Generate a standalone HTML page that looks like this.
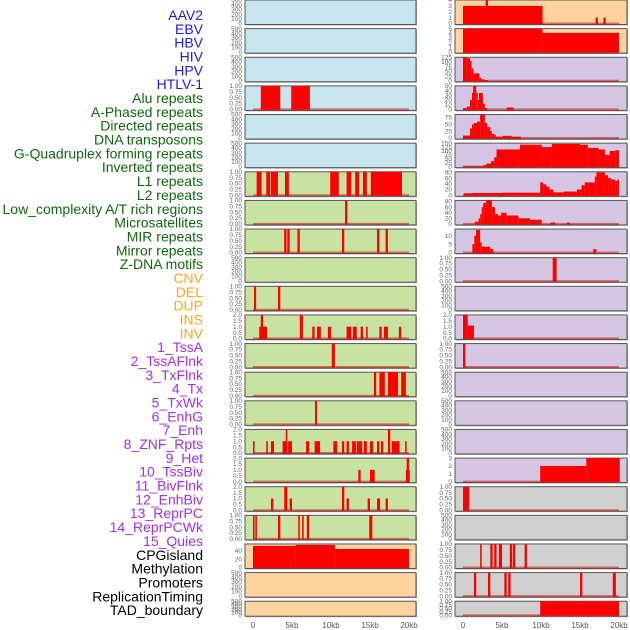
<!DOCTYPE html>
<html><head><meta charset="utf-8"><style>
html,body{margin:0;padding:0;background:#fff;}
svg{display:block;font-family:"Liberation Sans",sans-serif;}
</style></head><body>
<svg id="chart" width="630" height="630" viewBox="0 0 630 630"></svg>
<script>
// ---- labels ----
const trackLabels = ["AAV2","EBV","HBV","HIV","HPV","HTLV-1","Alu repeats","A-Phased repeats","Directed repeats","DNA transposons","G-Quadruplex forming repeats","Inverted repeats","L1 repeats","L2 repeats","Low_complexity A/T rich regions","Microsatellites","MIR repeats","Mirror repeats","Z-DNA motifs","CNV","DEL","DUP","INS","INV","1_TssA","2_TssAFlnk","3_TxFlnk","4_Tx","5_TxWk","6_EnhG","7_Enh","8_ZNF_Rpts","9_Het","10_TssBiv","11_BivFlnk","12_EnhBiv","13_ReprPC","14_ReprPCWk","15_Quies","CPGisland","Methylation","Promoters","ReplicationTiming","TAD_boundary"];
const labelGroups = ["virus","virus","virus","virus","virus","virus","repeat","repeat","repeat","repeat","repeat","repeat","repeat","repeat","repeat","repeat","repeat","repeat","repeat","sv","sv","sv","sv","sv","chrom","chrom","chrom","chrom","chrom","chrom","chrom","chrom","chrom","chrom","chrom","chrom","chrom","chrom","chrom","other","other","other","other","other"];
const xTickValues = [0,5,10,15,20];
const xTickLabels = ["0","5kb","10kb","15kb","20kb"];

// ---- series data: [startKb, endKb, value] ----
const leftAlu = [[1.0,3.5,1],[4.9,7.3,1]];
const leftL1 = [[0.47,1.1,1],[1.7,2.2,1],[2.3,3.2,1],[4.1,4.6,1],[9.9,11,1],[12,12.6,1],[13.1,13.6,1],[14.1,14.6,1],[15.1,19.1,1]];
const leftR7 = [[11.8,12.1,1]];
const leftR8 = [[4,4.3,1],[4.4,4.7,1],[5.7,6,1],[11.4,11.7,1],[15.9,16.2,1],[17,17.3,1]];
const leftR10 = [[0.13,0.4,1],[3.2,3.5,1]];
const leftR11 = [[0.8,1.8,1],[1.0,1.3,2],[6.0,6.4,2],[7.6,7.9,1],[8.2,8.7,1],[9.6,10,1],[12,12.6,1],[12.8,13.3,1],[13.8,14.1,1],[14.5,14.7,1],[16.2,16.5,1],[16.8,17.3,1],[18.7,19,1]];
const leftR12 = [[10.1,10.5,1]];
const leftR13 = [[15.5,15.8,1],[16.2,16.9,1],[17.3,18.6,1],[19,19.6,1]];
const leftR14 = [[7.95,8.2,1]];
const leftR15 = [[0,0.2,1],[1.7,1.9,1],[2.3,2.7,1],[3.8,4.4,1],[4.2,4.4,2],[4.5,5,1],[6.8,7.2,1],[7.9,8.6,1],[10.3,10.8,1],[11.4,11.7,1],[12,12.3,1],[12.7,13.2,1],[13.3,14,1],[14.2,14.6,1],[15,15.4,1],[15.9,16.2,1],[16.4,16.7,1],[17.3,17.6,2],[17.8,18.8,1],[19.5,19.7,1]];
const leftR16 = [[13.5,13.8,1],[15,15.6,1],[19.6,20.1,1],[19.7,20,2]];
const leftR17 = [[2.3,2.6,1],[4,4.4,2],[4.7,5,1],[11.4,11.7,2],[12,12.3,1],[14.7,15,1],[15.9,16.3,1],[17,17.3,1]];
const leftR18 = [[0,0.2,1],[0.3,0.5,1],[3.2,3.5,1],[5.8,6,1],[6.3,6.5,1],[6.9,7.2,1],[14.9,15.3,1]];
const leftCpg = [[0,5.5,51.5],[5.5,10.5,53.8],[10.5,20,44]];

const rightR0 = [[0,10.2,3],[2.9,3.2,4],[17,17.3,1],[18,18.3,1]];
const rightR1 = [[0,10.2,5],[10.2,20,4.1]];
const rightR2 = [[0,0.5,125],[0.5,0.9,120],[0.9,1.1,105],[1.1,1.35,65],[1.35,1.6,38],[1.6,2.1,40],[2.1,2.35,15],[2.35,2.7,8],[2.7,3.2,4]];
const rightR3 = [[0,0.5,3],[0.5,0.9,6],[0.9,1.15,20],[1.15,1.3,35],[1.3,1.7,50],[1.7,1.9,35],[1.9,2.05,20],[2.05,2.55,35],[2.55,2.8,12],[2.8,3.1,3],[5.6,6.5,4]];
const rightR4 = [[0,0.9,9],[0.9,1.15,35],[1.15,1.4,50],[1.4,1.8,55],[1.8,2.2,60],[2.2,2.8,85],[2.8,3.1,55],[3.1,3.5,40],[3.5,3.7,25],[3.7,4.0,15],[4.0,4.2,12],[4.2,5.1,5],[5.1,6.2,8],[6.2,7.4,5]];
const rightR5 = [[0,2.6,2],[2.6,3.0,10],[3.0,3.6,20],[3.6,4.0,35],[4.0,4.3,60],[4.3,7.3,110],[7.3,10.1,140],[10.1,11.4,125],[11.4,15,145],[15,16,140],[16,17.4,120],[17.4,18.2,110],[18.2,18.8,75],[18.8,19.5,100],[19.5,20,105]];
const rightR6 = [[0.1,1.2,7],[1.2,5,8],[5,9.9,9],[9.9,10.3,45],[10.3,10.7,38],[10.7,11.1,30],[11.1,11.6,20],[11.6,12.9,10],[12.9,14.6,13],[14.6,15.2,20],[15.2,15.6,35],[15.6,16.1,45],[16.1,16.9,45],[16.9,17.1,65],[17.1,18.2,80],[18.2,18.6,70],[18.6,19.0,60],[19.0,19.5,55],[19.5,19.8,50],[19.8,20,55]];
const rightR7 = [[1.5,2,8],[2,2.2,20],[2.2,2.4,35],[2.4,2.6,60],[2.6,2.95,75],[2.95,3.7,85],[3.7,4.1,60],[4.1,4.5,35],[4.5,4.9,30],[4.9,5.6,40],[5.6,7.1,30],[7.1,8.6,20],[8.6,10.1,15],[11.2,11.8,5],[13.3,13.7,5]];
const rightR8 = [[1.2,1.45,5],[1.45,1.67,10],[1.67,2.2,13.5],[2.2,2.4,6],[2.4,3.5,3.5],[3.5,3.9,2],[16.7,17.1,2]];
const rightR9 = [[11.5,12,1]];
const rightR11 = [[0,0.6,2],[0.6,1.4,1.1]];
const rightR12 = [[0,0.3,1]];
const rightR16 = [[9.9,15.8,2],[15.8,20.1,3]];
const rightR17 = [[0,0.8,1]];
const rightR19 = [[2.2,2.4,1],[3.5,3.8,1],[4,4.3,1],[4.6,5,1],[6,6.3,1],[6.4,6.7,1],[7.9,8.2,1]];
const rightR20 = [[1.4,1.7,1],[3.2,3.5,1],[5.3,5.6,1],[5.8,6.1,1],[15,15.3,1],[19.2,19.6,1]];
const rightR21 = [[9.9,20,1]];

// ---- y-axis tick arrays ----
const ticksEmpty = [0,100,200,300,400,500];
const ticksUnit = [0,0.25,0.5,0.75,1];
const ticksTwo = [0,0.5,1,1.5,2];
const ticksCpg = [0,20,40];
const ticksR0 = [0,1,2,3,4];
const ticksR1 = [0,1,2,3,4,5];
const ticksR2 = [0,25,50,75,100,125];
const ticksR3 = [0,10,20,30,40,50];
const ticksR4 = [0,25,50,75];
const ticksR5 = [0,25,50,75,100,125,150];
const ticksR6 = [0,20,40,60,80];
const ticksR8 = [0,5,10];
const ticksR16 = [0,1,2,3];

const BG = {blue:"#c8e4ec",green:"#c8e2a2",orange:"#ffd3a0",purple:"#d5c6e3",gray:"#d0d0d0"};
const LABELCOL = {virus:"#1a1aee",repeat:"#116611",sv:"#ffa516",chrom:"#a030ee",other:"#000"};

// [col,row,bg,yMax,ticks,fmtDigits,data]
const panels = [
 [0,0,"blue",500,ticksEmpty,0,null],[0,1,"blue",500,ticksEmpty,0,null],[0,2,"blue",500,ticksEmpty,0,null],
 [0,3,"blue",1,ticksUnit,2,leftAlu],[0,4,"blue",500,ticksEmpty,0,null],[0,5,"blue",500,ticksEmpty,0,null],
 [0,6,"green",1,ticksUnit,2,leftL1],[0,7,"green",1,ticksUnit,2,leftR7],[0,8,"green",1,ticksUnit,2,leftR8],
 [0,9,"green",500,ticksEmpty,0,null],[0,10,"green",1,ticksUnit,2,leftR10],[0,11,"green",2,ticksTwo,1,leftR11],
 [0,12,"green",1,ticksUnit,2,leftR12],[0,13,"green",1,ticksUnit,2,leftR13],[0,14,"green",1,ticksUnit,2,leftR14],
 [0,15,"green",2,ticksTwo,1,leftR15],[0,16,"green",2,ticksTwo,1,leftR16],[0,17,"green",2,ticksTwo,1,leftR17],
 [0,18,"green",1,ticksUnit,2,leftR18],[0,19,"orange",56,ticksCpg,0,leftCpg],[0,20,"orange",500,ticksEmpty,0,null],
 [0,21,"orange",500,ticksEmpty,0,null],
 [1,0,"orange",4,ticksR0,0,rightR0],[1,1,"orange",5,ticksR1,0,rightR1],[1,2,"purple",125,ticksR2,0,rightR2],
 [1,3,"purple",50,ticksR3,0,rightR3],[1,4,"purple",86,ticksR4,0,rightR4],[1,5,"purple",150,ticksR5,0,rightR5],
 [1,6,"purple",82,ticksR6,0,rightR6],[1,7,"purple",84,ticksR6,0,rightR7],[1,8,"purple",14,ticksR8,0,rightR8],
 [1,9,"purple",1,ticksUnit,2,rightR9],[1,10,"purple",500,ticksEmpty,0,null],[1,11,"purple",2,ticksTwo,1,rightR11],
 [1,12,"purple",1,ticksUnit,2,rightR12],[1,13,"purple",500,ticksEmpty,0,null],[1,14,"purple",500,ticksEmpty,0,null],
 [1,15,"purple",500,ticksEmpty,0,null],[1,16,"purple",3,ticksR16,0,rightR16],[1,17,"gray",1,ticksUnit,2,rightR17],
 [1,18,"gray",500,ticksEmpty,0,null],[1,19,"gray",1,ticksUnit,2,rightR19],[1,20,"gray",1,ticksUnit,2,rightR20],
 [1,21,"gray",1,ticksUnit,2,rightR21]
];

const NS="http://www.w3.org/2000/svg";
const svg=document.getElementById("chart");
function mk(tag,attrs,parent){const e=document.createElementNS(NS,tag);for(const k in attrs)e.setAttribute(k,attrs[k]);(parent||svg).appendChild(e);return e;}

const COLX=[{left:245,right:416,x0:253,x1:409},{left:455,right:627,x0:463,x1:619}];
const ROWP=28.63, PH=24.5;
function xScale(col,kb){const c=COLX[col];return c.x0+(c.x1-c.x0)*kb/20;}
function rowTop(r){return r*ROWP;}
function rowH(r){return r===21?15:PH;}

// labels
trackLabels.forEach((t,i)=>{
  const el=mk("text",{x:203,y:15+i*13.84+5,"text-anchor":"end","font-size":"14",fill:LABELCOL[labelGroups[i]]});
  
  
  el.textContent=t;
});

panels.forEach(p=>{
  const [col,row,bg,yMax,ticks,dg,data]=p;
  const c=COLX[col], top=rowTop(row), h=rowH(row), bottom=top+h;
  const g=mk("g",{});
  
  
  mk("rect",{x:c.left+1,y:top+1,width:c.right-c.left,height:h,fill:"#aaa"},g);
  const bgr=mk("rect",{x:c.left,y:top,width:c.right-c.left,height:h,fill:BG[bg],stroke:"#555","stroke-width":1},g);
  
  
  const y0=bottom-1;
  const yS=v=>y0-(y0-top)*v/yMax;
  ticks.forEach(tv=>{
    const t=mk("text",{x:c.left-3,y:yS(tv)+2.2,"text-anchor":"end","font-size":"6.5",fill:"#666"},g);
    
    
    t.textContent=tv.toFixed(dg);
  });
  if(data){
    mk("line",{x1:xScale(col,0),x2:xScale(col,20),y1:y0,y2:y0,stroke:"rgba(200,0,0,0.5)","stroke-width":2},g);
    data.forEach(d=>{
      const x=xScale(col,d[0]),w=Math.max(1.5,xScale(col,d[1])-x),yt=Math.max(top,yS(d[2]));
      const b=mk("rect",{x:x,y:yt,width:w,height:y0-yt+0.5,fill:"#ff0000"},g);
      
      
    });
  }
});

// x axes
[0,1].forEach(col=>{
  xTickValues.forEach((v,i)=>{
    const t=mk("text",{x:xScale(col,v),y:628,"text-anchor":"middle","font-size":"8",fill:"#555"});
    
    
    t.textContent=xTickLabels[i];
  });
});
</script>
</body></html>
